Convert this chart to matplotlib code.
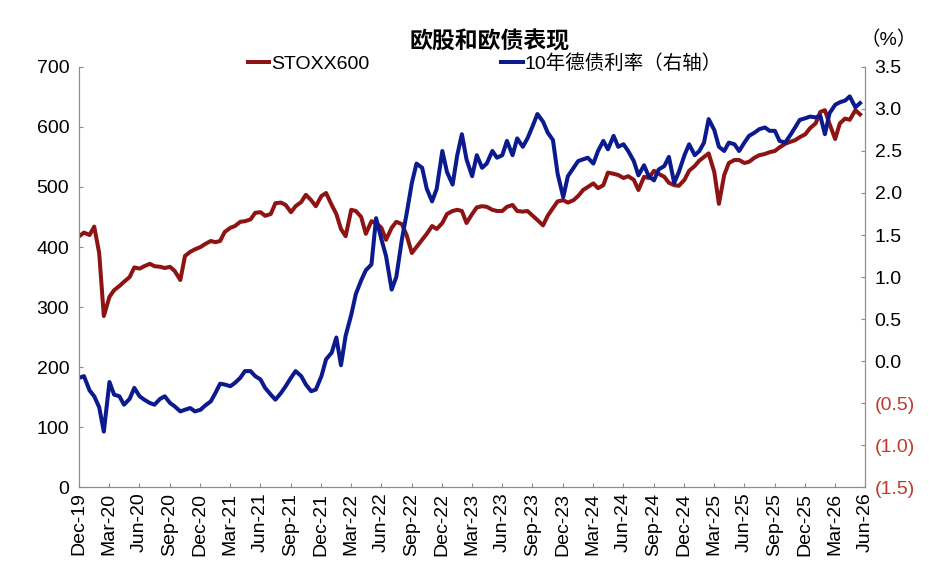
import matplotlib.pyplot as plt
import numpy as np
import pandas as pd

plt.rcParams['font.family'] = ['Liberation Sans', 'Noto Sans CJK SC', 'DejaVu Sans']

# semi-monthly observations, Jan 2020 - Jun 2026
dates = pd.date_range("2020-01-01", periods=156, freq="SMS")

stoxx600 = [
    418, 424, 420, 434, 390, 285, 317, 328, 335, 342, 350, 366,
    364, 368, 372, 368, 367, 365, 367, 360, 345, 385, 392, 396,
    400, 405, 410, 408, 410, 425, 432, 435, 442, 443, 446, 457,
    458, 452, 455, 473, 474, 470, 458, 468, 475, 487, 478, 468,
    485, 490, 470, 455, 430, 418, 462, 460, 450, 422, 443, 440,
    432, 412, 432, 442, 438, 420, 390, 400, 412, 422, 435, 430,
    440, 455, 460, 462, 460, 440, 455, 466, 468, 467, 462, 460,
    460, 467, 470, 460, 459, 460, 452, 445, 436, 452, 465, 476,
    478, 474, 478, 485, 495, 500, 506, 498, 503, 524, 522, 520,
    515, 518, 512, 495, 517, 515, 527, 522, 517, 507, 503, 502,
    512, 527, 535, 544, 550, 556, 525, 472, 520, 540, 545, 545,
    540, 542, 549, 553, 555, 558, 560, 566, 572, 575, 578, 583,
    588, 598, 606, 625, 628, 605, 580, 606, 614, 612, 628, 621,
]

bund10y = [
    -0.20, -0.18, -0.35, -0.42, -0.55, -0.84, -0.25, -0.40, -0.42, -0.52, -0.45, -0.32,
    -0.42, -0.46, -0.50, -0.52, -0.45, -0.42, -0.50, -0.54, -0.60, -0.58, -0.56, -0.60,
    -0.58, -0.53, -0.48, -0.38, -0.27, -0.28, -0.30, -0.26, -0.20, -0.12, -0.12, -0.18,
    -0.22, -0.32, -0.40, -0.46, -0.38, -0.30, -0.20, -0.12, -0.18, -0.28, -0.36, -0.34,
    -0.18, 0.02, 0.10, 0.28, -0.05, 0.30, 0.55, 0.80, 0.96, 1.08, 1.15, 1.70,
    1.45, 1.25, 0.85, 1.00, 1.45, 1.75, 2.12, 2.35, 2.30, 2.05, 1.90, 2.05,
    2.50, 2.25, 2.10, 2.45, 2.70, 2.40, 2.20, 2.45, 2.30, 2.35, 2.50, 2.42,
    2.45, 2.62, 2.45, 2.65, 2.55, 2.65, 2.80, 2.94, 2.85, 2.72, 2.63, 2.23,
    1.95, 2.20, 2.30, 2.38, 2.40, 2.42, 2.35, 2.50, 2.62, 2.52, 2.68, 2.55,
    2.58, 2.50, 2.38, 2.21, 2.33, 2.20, 2.15, 2.28, 2.32, 2.43, 2.12, 2.25,
    2.45, 2.58, 2.45, 2.50, 2.60, 2.88, 2.75, 2.55, 2.50, 2.60, 2.58, 2.50,
    2.60, 2.68, 2.72, 2.76, 2.78, 2.74, 2.74, 2.62, 2.60, 2.68, 2.78, 2.87,
    2.89, 2.91, 2.90, 2.92, 2.70, 2.95, 3.05, 3.08, 3.10, 3.15, 3.02, 3.07,
]

left_ticks = [0, 100, 200, 300, 400, 500, 600, 700]
right_ticks = [-1.5, -1.0, -0.5, 0.0, 0.5, 1.0, 1.5, 2.0, 2.5, 3.0, 3.5]
quarter_ends = pd.date_range("2019-12-31", "2026-06-30", freq="QE")

red = '#8E1414'
blue = '#0B1A8C'
neg_red = '#C0392B'
grey = '#8C8C8C'

fig = plt.figure(figsize=(9.47, 5.75), dpi=100)
ax = fig.add_axes([0.0834, 0.153, 0.830, 0.7305])
ax2 = ax.twinx()

l1, = ax.plot(dates, stoxx600, color=red, lw=2.9, label='STOXX600')
l2, = ax2.plot(dates, bund10y, color=blue, lw=2.9, label='10年德债利率（右轴）')

ax.set_ylim(0, 700)
ax2.set_ylim(-1.5, 3.5)
ax.set_xlim(pd.Timestamp("2019-12-31"), pd.Timestamp("2026-06-30"))

ax.set_yticks(left_ticks)
ax.set_yticklabels([str(v) for v in left_ticks])
ax2.set_yticks(right_ticks)
ax2.set_yticklabels([f"({abs(v):.1f})" if v < 0 else f"{v:.1f}" for v in right_ticks])
for lab, v in zip(ax2.get_yticklabels(), right_ticks):
    if v < 0:
        lab.set_color(neg_red)

ax.set_xticks(quarter_ends)
ax.set_xticklabels([d.strftime("%b-%y") for d in quarter_ends], rotation=90)

for a in (ax, ax2):
    a.spines['top'].set_visible(False)
    for s in ('left', 'right', 'bottom'):
        a.spines[s].set_color(grey)
    a.tick_params(direction='in', length=3, color=grey, labelsize=14)
ax.tick_params(axis='y', pad=7)
ax2.tick_params(axis='y', pad=7)
ax.tick_params(axis='x', labelsize=14, pad=4)

fig.text(0.517, 0.927, '欧股和欧债表现', ha='center', va='center',
         fontsize=16.5, fontweight='bold')
fig.text(0.938, 0.93, '（%）', ha='center', va='center', fontsize=14)

fig.legend(handles=[l1, l2], loc='center', bbox_to_anchor=(0.512, 0.889),
           ncol=2, frameon=False, fontsize=14, handlelength=1.1,
           handletextpad=0.1, columnspacing=6.8, borderaxespad=0)

fig.savefig('out.png', dpi=100)
